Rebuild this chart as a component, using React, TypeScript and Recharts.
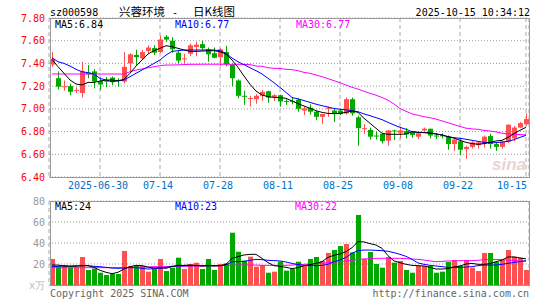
import { Bar, CartesianGrid, ComposedChart, Line, XAxis, YAxis } from "recharts";

const RED = "#ff5050";
const GREEN = "#00a800";
const MONO = "'DejaVu Sans Mono', monospace";
const CJK = "'Noto Sans CJK SC', sans-serif";

const dates = (
  "06-18 06-19 06-20 06-23 06-24 06-25 06-26 06-27 06-30 07-01 07-02 07-03 07-04 07-07 07-08 07-09 " +
  "07-10 07-11 07-14 07-15 07-16 07-17 07-18 07-21 07-22 07-23 07-24 07-25 07-28 07-29 07-30 07-31 " +
  "08-01 08-04 08-05 08-06 08-07 08-08 08-11 08-12 08-13 08-14 08-15 08-18 08-19 08-20 08-21 08-22 " +
  "08-25 08-26 08-27 08-28 08-29 09-01 09-02 09-03 09-04 09-05 09-08 09-09 09-10 09-11 09-12 09-15 " +
  "09-16 09-17 09-18 09-19 09-22 09-23 09-24 09-25 09-26 09-29 09-30 10-09 10-10 10-13 10-14 10-15"
).split(" ");

const tickDates = ["06-30", "07-14", "07-28", "08-11", "08-25", "09-08", "09-22", "10-15"];
const tickLabels = ["2025-06-30", "07-14", "07-28", "08-11", "08-25", "09-08", "09-22", "10-15"];
const priceTicks = [6.4, 6.6, 6.8, 7.0, 7.2, 7.4, 7.6, 7.8];
const volTicks = [0, 20, 40, 60, 80];

const opens = [
  7.39, 7.27, 7.19, 7.2, 7.16, 7.14, 7.32, 7.33, 7.245, 7.25, 7.275, 7.255, 7.24, 7.4, 7.475, 7.445, 7.51, 7.535, 7.5, 7.635,
  7.6, 7.495, 7.44, 7.485, 7.545, 7.57, 7.525, 7.49, 7.455, 7.5, 7.39, 7.25, 7.115, 7.09, 7.085, 7.115, 7.155, 7.105, 7.12, 7.07,
  7.07, 7.08, 6.985, 7.01, 6.975, 6.93, 7.0, 6.985, 6.985, 6.96, 7.085, 6.925, 6.825, 6.815, 6.765, 6.78, 6.72, 6.81, 6.79, 6.805,
  6.795, 6.755, 6.81, 6.825, 6.765, 6.767, 6.755, 6.69, 6.715, 6.645, 6.665, 6.68, 6.69, 6.76, 6.69, 6.665, 6.71, 6.74, 6.835, 6.865,
];
const highs = [
  7.5, 7.33, 7.25, 7.22, 7.19, 7.415, 7.385, 7.35, 7.275, 7.28, 7.285, 7.27, 7.5, 7.49, 7.52, 7.52, 7.56, 7.56, 7.645, 7.65,
  7.63, 7.52, 7.485, 7.575, 7.59, 7.6, 7.54, 7.54, 7.535, 7.555, 7.4, 7.26, 7.16, 7.115, 7.13, 7.165, 7.16, 7.13, 7.125, 7.095,
  7.1, 7.095, 7.02, 7.04, 6.98, 6.955, 7.02, 7.005, 7.0, 7.1, 7.1, 6.94, 6.865, 6.835, 6.8, 6.78, 6.815, 6.815, 6.835, 6.83,
  6.8, 6.8, 6.835, 6.825, 6.785, 6.785, 6.765, 6.74, 6.74, 6.675, 6.715, 6.715, 6.765, 6.78, 6.705, 6.715, 6.865, 6.85, 6.885, 6.96,
];
const lows = [
  7.37, 7.17, 7.16, 7.12, 7.14, 7.1, 7.27, 7.18, 7.165, 7.19, 7.21, 7.195, 7.225, 7.33, 7.385, 7.435, 7.49, 7.475, 7.49, 7.59,
  7.495, 7.4, 7.4, 7.465, 7.465, 7.52, 7.415, 7.445, 7.375, 7.375, 7.2, 7.095, 7.035, 7.02, 7.045, 7.07, 7.055, 7.07, 7.02, 7.035,
  7.04, 6.975, 6.945, 6.95, 6.9, 6.865, 6.93, 6.885, 6.945, 6.95, 6.94, 6.675, 6.78, 6.73, 6.73, 6.695, 6.675, 6.725, 6.74, 6.74,
  6.745, 6.735, 6.8, 6.74, 6.735, 6.74, 6.64, 6.63, 6.59, 6.56, 6.65, 6.65, 6.66, 6.65, 6.63, 6.65, 6.7, 6.715, 6.83, 6.85,
];
const closes = [
  7.44, 7.195, 7.2, 7.15, 7.165, 7.33, 7.305, 7.24, 7.215, 7.24, 7.235, 7.245, 7.37, 7.48, 7.455, 7.5, 7.54, 7.495, 7.61, 7.61,
  7.525, 7.425, 7.445, 7.56, 7.565, 7.535, 7.48, 7.45, 7.525, 7.395, 7.27, 7.115, 7.11, 7.095, 7.115, 7.15, 7.1, 7.12, 7.065, 7.065,
  7.065, 7.0, 7.005, 6.975, 6.93, 6.955, 7.01, 6.96, 6.955, 7.085, 6.96, 6.83, 6.83, 6.755, 6.76, 6.715, 6.81, 6.805, 6.81, 6.775,
  6.77, 6.785, 6.825, 6.765, 6.76, 6.764, 6.69, 6.73, 6.64, 6.665, 6.705, 6.705, 6.755, 6.69, 6.665, 6.71, 6.86, 6.835, 6.875, 6.91,
];

const ma5 = [
  7.436, 7.371, 7.313, 7.254, 7.219, 7.21, 7.233, 7.233, 7.245, 7.254, 7.254, 7.245, 7.26, 7.313, 7.377, 7.43, 7.483, 7.512, 7.533, 7.556,
  7.547, 7.533, 7.518, 7.506, 7.506, 7.509, 7.512, 7.512, 7.503, 7.483, 7.43, 7.365, 7.289, 7.216, 7.157, 7.122, 7.107, 7.101, 7.098, 7.093,
  7.069, 7.046, 7.025, 7.005, 6.984, 6.969, 6.96, 6.958, 6.96, 6.969, 6.981, 6.969, 6.917, 6.873, 6.829, 6.785, 6.776, 6.776, 6.776, 6.779,
  6.799, 6.793, 6.793, 6.788, 6.779, 6.77, 6.755, 6.743, 6.723, 6.705, 6.694, 6.688, 6.694, 6.705, 6.717, 6.723, 6.749, 6.782, 6.811, 6.837,
];
const ma10 = [
  7.45, 7.415, 7.4, 7.377, 7.348, 7.327, 7.318, 7.307, 7.268, 7.254, 7.239, 7.248, 7.254, 7.283, 7.313, 7.342, 7.371, 7.4, 7.43, 7.474,
  7.506, 7.512, 7.518, 7.518, 7.518, 7.518, 7.518, 7.518, 7.512, 7.489, 7.447, 7.415, 7.389, 7.362, 7.336, 7.307, 7.269, 7.23, 7.189, 7.145,
  7.1, 7.088, 7.073, 7.057, 7.041, 7.028, 7.016, 7.003, 6.997, 6.991, 6.984, 6.975, 6.955, 6.94, 6.922, 6.905, 6.881, 6.858, 6.837, 6.82,
  6.799, 6.793, 6.79, 6.785, 6.779, 6.77, 6.755, 6.746, 6.741, 6.732, 6.723, 6.714, 6.705, 6.702, 6.702, 6.708, 6.714, 6.729, 6.749, 6.767,
];
const ma30 = [
  7.307, 7.307, 7.307, 7.307, 7.307, 7.307, 7.307, 7.307, 7.307, 7.307, 7.307, 7.307, 7.307, 7.327, 7.342, 7.351, 7.362, 7.371, 7.38, 7.386,
  7.386, 7.388, 7.39, 7.392, 7.392, 7.393, 7.393, 7.393, 7.393, 7.392, 7.392, 7.392, 7.391, 7.39, 7.377, 7.375, 7.362, 7.357, 7.355, 7.348,
  7.345, 7.336, 7.321, 7.313, 7.298, 7.283, 7.266, 7.248, 7.23, 7.21, 7.19, 7.174, 7.155, 7.137, 7.12, 7.1, 7.076, 7.043, 7.003, 6.978,
  6.956, 6.943, 6.931, 6.922, 6.91, 6.894, 6.878, 6.861, 6.845, 6.83, 6.823, 6.82, 6.81, 6.805, 6.797, 6.785, 6.779, 6.776, 6.773, 6.772,
];

const vol = [
  24.8, 18.1, 19.0, 16.5, 16.5, 26.7, 14.3, 15.6, 11.7, 9.5, 10.8, 10.5, 32.4, 18.1, 18.4, 18.4, 12.7, 15.2, 24.8, 13.3,
  16.5, 26.0, 15.2, 19.9, 21.2, 15.2, 24.8, 14.3, 19.9, 20.6, 49.8, 31.7, 23.2, 27.0, 17.5, 19.0, 11.7, 12.7, 22.2, 13.7,
  15.2, 22.2, 18.1, 24.8, 26.7, 22.9, 30.5, 33.3, 37.1, 39.0, 31.0, 66.7, 24.8, 31.4, 20.0, 16.5, 26.7, 21.3, 22.9, 14.3,
  11.7, 18.1, 18.1, 18.1, 11.7, 12.7, 21.9, 23.8, 18.4, 23.8, 16.5, 13.3, 30.5, 30.5, 22.2, 23.8, 33.3, 27.0, 26.0, 14.3,
];
const vma5 = [
  19.0, 19.0, 18.1, 17.8, 17.8, 18.4, 18.4, 16.8, 14.0, 12.1, 10.8, 12.1, 15.2, 17.5, 18.7, 18.4, 17.1, 16.2, 16.5, 15.9,
  17.5, 18.7, 18.7, 19.0, 18.7, 18.1, 18.4, 18.1, 18.4, 19.7, 25.4, 27.0, 28.6, 29.2, 29.2, 25.4, 21.3, 18.4, 17.8, 16.8,
  15.6, 16.5, 18.4, 19.4, 20.6, 22.2, 26.3, 28.3, 29.5, 31.7, 35.6, 41.3, 41.0, 39.4, 38.1, 34.9, 27.9, 22.9, 21.3, 19.7,
  18.7, 18.4, 18.1, 16.8, 15.2, 15.2, 15.6, 17.1, 18.1, 20.0, 20.6, 19.7, 19.7, 20.3, 22.2, 23.8, 26.7, 26.7, 25.7, 24.9,
];
const vma10 = [
  17.5, 17.8, 18.1, 18.1, 18.4, 18.4, 18.4, 17.8, 17.5, 16.8, 16.2, 15.9, 16.2, 16.5, 16.5, 15.9, 15.2, 15.6, 15.9, 16.8,
  17.8, 18.1, 18.4, 18.4, 18.4, 18.4, 18.4, 18.4, 18.4, 19.0, 22.2, 22.2, 22.5, 23.5, 24.4, 24.1, 23.5, 23.2, 22.9, 21.9,
  20.6, 19.4, 18.7, 18.4, 18.4, 18.7, 19.7, 22.2, 23.8, 26.3, 30.2, 32.7, 33.3, 33.3, 33.0, 32.7, 32.1, 30.8, 29.2, 27.3,
  24.4, 21.0, 19.7, 18.7, 18.1, 17.5, 16.8, 16.8, 16.8, 17.1, 17.5, 18.4, 19.0, 19.0, 19.0, 19.7, 20.6, 21.6, 22.2, 23.2,
];
const vma30 = [
  16.5, 16.5, 16.5, 16.5, 16.5, 16.5, 16.5, 16.5, 16.5, 16.5, 16.5, 16.5, 16.5, 16.8, 16.8, 17.1, 17.1, 17.5, 17.5, 17.5,
  17.8, 17.8, 17.8, 18.1, 18.1, 18.1, 18.4, 18.4, 18.4, 18.7, 18.7, 19.0, 19.0, 19.0, 19.0, 18.7, 18.7, 18.7, 18.7, 18.7,
  19.0, 19.4, 19.7, 20.0, 20.3, 20.6, 21.3, 21.9, 22.2, 22.9, 23.5, 24.4, 24.8, 25.1, 25.4, 25.4, 25.4, 25.4, 25.4, 25.1,
  24.8, 24.4, 23.8, 22.9, 22.2, 22.5, 22.9, 22.9, 23.2, 23.2, 23.2, 23.5, 24.1, 24.1, 24.4, 24.1, 23.8, 23.2, 22.9, 22.5,
];

const data = dates.map((date, i) => ({
  date,
  open: opens[i],
  close: closes[i],
  high: highs[i],
  low: lows[i],
  range: [lows[i], highs[i]],
  up: closes[i] >= opens[i],
  ma5: ma5[i],
  ma10: ma10[i],
  ma30: ma30[i],
  vol: vol[i],
  vma5: vma5[i],
  vma10: vma10[i],
  vma30: vma30[i],
}));

function Candle(props: any) {
  const { x, y, width, height, payload } = props;
  const top = height < 0 ? y + height : y;
  const h = Math.abs(height);
  const ppu = h / (payload.high - payload.low);
  const cx = Math.floor(x + width / 2);
  const color = payload.up ? RED : GREEN;
  const bodyTop = top + (payload.high - Math.max(payload.open, payload.close)) * ppu;
  const bodyH = Math.max(1, Math.abs(payload.close - payload.open) * ppu);
  return (
    <g>
      <rect x={cx} y={top} width={1} height={h} fill={color} />
      <rect x={cx - 2} y={bodyTop} width={5} height={bodyH} fill={color} />
    </g>
  );
}

function VolBar(props: any) {
  const { x, y, width, height, payload } = props;
  const cx = Math.floor(x + width / 2);
  return <rect x={cx - 2} y={y} width={5} height={height} fill={payload.up ? RED : GREEN} />;
}

function DateTick(props: any) {
  const { x, payload } = props;
  const idx = tickDates.indexOf(payload.value);
  const last = idx === tickDates.length - 1;
  return (
    <text
      x={last ? x + 1 : x - 2}
      y={189}
      textAnchor={last ? "end" : "middle"}
      fontFamily={MONO}
      fontSize={10}
      fill="#0070c8"
    >
      {tickLabels[idx]}
    </text>
  );
}

function VolTick(props: any) {
  const { x, y, payload } = props;
  const zero = payload.value === 0;
  return (
    <text x={x} y={y} dy={3.5} textAnchor="end" fontFamily={MONO} fontSize={10} fill={zero ? "#bbb" : "#999"}>
      {zero ? "x万" : payload.value}
    </text>
  );
}

export default function App() {
  return (
    <div style={{ position: "absolute", left: 0, top: 0, width: 545, height: 300, background: "#fff" }}>
      <div style={{ position: "absolute", left: 0, top: 0 }}>
        <ComposedChart width={545} height={195} data={data} margin={{ top: 18, right: 16, bottom: 0, left: 0 }}>
          <CartesianGrid vertical={false} stroke="#999" strokeDasharray="1 2" />
          <CartesianGrid horizontal={false} stroke="#aaa" strokeDasharray="4 3" />
          <XAxis
            dataKey="date"
            ticks={tickDates}
            interval={0}
            height={18}
            axisLine={false}
            tickLine={false}
            tick={<DateTick />}
          />
          <YAxis
            domain={[6.4, 7.8]}
            ticks={priceTicks}
            interval={0}
            allowDataOverflow
            width={49}
            axisLine={false}
            tickLine={false}
            tickSize={0}
            tickMargin={4}
            tickFormatter={(v: number) => v.toFixed(2)}
            tick={{ fill: "#ff0000", fontSize: 10, fontFamily: MONO }}
          />
          <Bar dataKey="range" barSize={5} shape={<Candle />} isAnimationActive={false} />
          <Line dataKey="ma30" stroke="#ff00ff" strokeWidth={1} dot={false} isAnimationActive={false} />
          <Line dataKey="ma10" stroke="#0000ff" strokeWidth={1} dot={false} isAnimationActive={false} />
          <Line dataKey="ma5" stroke="#000" strokeWidth={1} dot={false} isAnimationActive={false} />
        </ComposedChart>
      </div>
      <div style={{ position: "absolute", left: 0, top: 195 }}>
        <ComposedChart width={545} height={105} data={data} margin={{ top: 6, right: 16, bottom: 15, left: 0 }}>
          <CartesianGrid vertical={false} stroke="#999" strokeDasharray="1 2" />
          <CartesianGrid horizontal={false} stroke="#aaa" strokeDasharray="4 3" />
          <XAxis dataKey="date" ticks={tickDates} interval={0} height={0} axisLine={false} tickLine={false} tick={false} />
          <YAxis
            domain={[0, 80]}
            ticks={volTicks}
            interval={0}
            width={49}
            axisLine={false}
            tickLine={false}
            tickSize={0}
            tickMargin={4}
            tick={<VolTick />}
          />
          <Bar dataKey="vol" barSize={5} shape={<VolBar />} isAnimationActive={false} />
          <Line dataKey="vma30" stroke="#ff00ff" strokeWidth={1} dot={false} isAnimationActive={false} />
          <Line dataKey="vma10" stroke="#0000ff" strokeWidth={1} dot={false} isAnimationActive={false} />
          <Line dataKey="vma5" stroke="#000" strokeWidth={1} dot={false} isAnimationActive={false} />
        </ComposedChart>
      </div>
      <svg width={545} height={300} style={{ position: "absolute", left: 0, top: 0, pointerEvents: "none" }}>
        <rect x={50.5} y={18.5} width={479} height={159} fill="none" stroke="#999" />
        <rect x={50.5} y={201.5} width={479} height={84} fill="none" stroke="#999" />
        <text x={492} y={170} fontStyle="italic" fontWeight="bold" fontSize={17} fontFamily="Arial, sans-serif" fill="#ecd2d2">
          sina
        </text>
        <g fontFamily={MONO} fontSize={10}>
          <text x={50} y={16} fill="#000">sz000598</text>
          <text x={172} y={16} fill="#000">-</text>
          <text x={530} y={16} textAnchor="end" fill="#000">2025-10-15 10:34:12</text>
          <text x={55} y={28} fill="#000">MA5:6.84</text>
          <text x={175} y={28} fill="#0000ff">MA10:6.77</text>
          <text x={296} y={28} fill="#ff00ff">MA30:6.77</text>
          <text x={55} y={210} fill="#000">MA5:24</text>
          <text x={175} y={210} fill="#0000ff">MA10:23</text>
          <text x={295} y={210} fill="#ff00ff">MA30:22</text>
          <text x={50} y={297} fill="#666">Copyright 2025 SINA.COM</text>
          <text x={529} y={297} textAnchor="end" fill="#666">http://finance.sina.com.cn</text>
        </g>
        <g fontFamily={CJK} fontSize={11.5} fill="#000">
          <text x={119} y={16}>兴蓉环境</text>
          <text x={193} y={16}>日K线图</text>
        </g>
      </svg>
    </div>
  );
}
